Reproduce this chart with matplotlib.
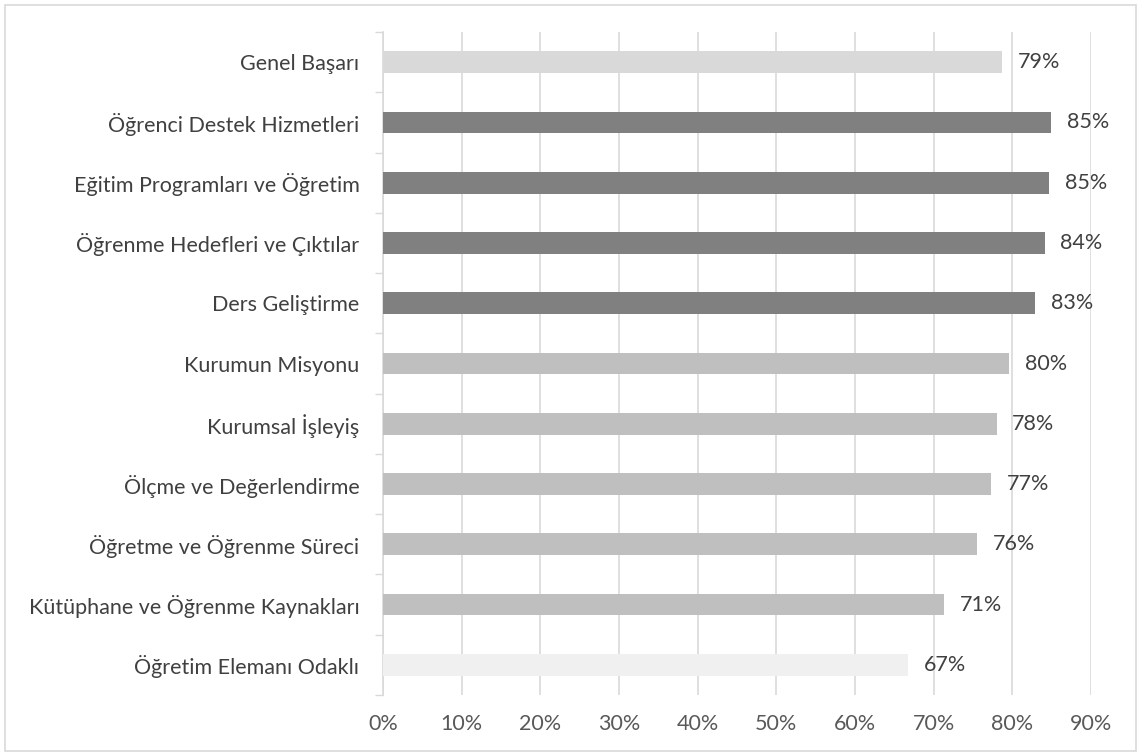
import numpy as np
import matplotlib.pyplot as plt
from matplotlib.patches import Rectangle

plt.rcParams['font.family'] = ['Lato', 'DejaVu Sans']

kategoriler = ['Genel Başarı', 'Öğrenci Destek Hizmetleri', 'Eğitim Programları ve Öğretim',
               'Öğrenme Hedefleri ve Çıktılar', 'Ders Geliştirme', 'Kurumun Misyonu',
               'Kurumsal İşleyiş', 'Ölçme ve Değerlendirme', 'Öğretme ve Öğrenme Süreci',
               'Kütüphane ve Öğrenme Kaynakları', 'Öğretim Elemanı Odaklı']
degerler = [78.7, 84.9, 84.7, 84.1, 82.9, 79.6, 78.0, 77.3, 75.5, 71.3, 66.7]
etiketler = ['79%', '85%', '85%', '84%', '83%', '80%', '78%', '77%', '76%', '71%', '67%']
renkler = ['#d9d9d9', '#808080', '#808080', '#808080', '#808080', '#bfbfbf',
           '#bfbfbf', '#bfbfbf', '#bfbfbf', '#bfbfbf', '#f0f0f0']
x_ticks = np.arange(0, 100, 10)

fig = plt.figure(figsize=(11.41, 7.56), dpi=100)
ax = fig.add_axes([383/1141, 1 - 695/756, (1091 - 383)/1141, (695 - 32)/756])

y = np.arange(len(kategoriler))[::-1]
ax.barh(y, degerler, height=0.36, color=renkler, zorder=3)
for yi, v, lab in zip(y, degerler, etiketler):
    ax.text(v + 2.0, yi, lab, va='center', ha='left', fontsize=15.5, color='#404040')

ax.set_xlim(0, 90)
ax.set_ylim(-0.5, len(kategoriler) - 0.5)
ax.set_xticks(x_ticks)
ax.set_xticklabels([f'{t}%' for t in x_ticks], fontsize=15.5, color='#595959')
ax.set_yticks(y)
ax.set_yticklabels(kategoriler, fontsize=15.5, color='#404040')
ax.set_yticks(np.arange(-0.5, len(kategoriler), 1), minor=True)
ax.tick_params(axis='y', which='major', length=0, pad=17)
ax.tick_params(axis='y', which='minor', length=6, color='#d9d9d9', width=1)
ax.tick_params(axis='x', length=0, pad=14)

ax.grid(axis='x', color='#d9d9d9', linewidth=1.2, zorder=0)
for s in ['top', 'right', 'bottom']:
    ax.spines[s].set_visible(False)
ax.spines['left'].set_color('#d9d9d9')
ax.spines['left'].set_linewidth(1.2)

fig.patches.append(Rectangle((5/1141, 5/756), 1131/1141, 746/756, transform=fig.transFigure,
                             fill=False, edgecolor='#d9d9d9', linewidth=1.2))

fig.savefig('out.png', dpi=100)
